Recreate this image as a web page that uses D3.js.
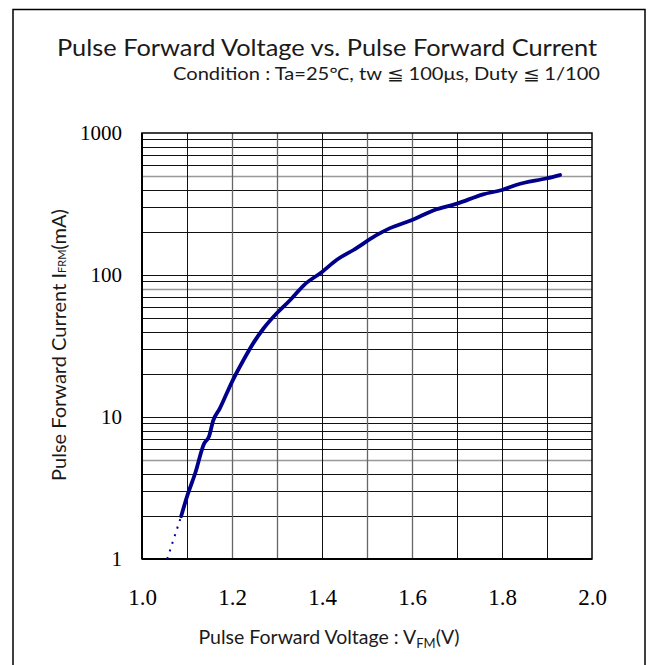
<!DOCTYPE html>
<html><head><meta charset="utf-8">
<script src="https://cdn.jsdelivr.net/npm/d3@7"></script>
<style>html,body{margin:0;padding:0;background:#fff;}svg{display:block;}</style>
</head><body>
<svg id="chart" width="653" height="665"></svg>
<script>
// ---- data ----
const voltage = [1.087, 1.100, 1.118, 1.138, 1.149, 1.158, 1.173, 1.200, 1.225, 1.247, 1.270, 1.300, 1.330, 1.360, 1.400, 1.433, 1.470, 1.520, 1.550, 1.600, 1.650, 1.700, 1.758, 1.800, 1.833, 1.900, 1.929];
const current = [2.0, 2.75, 4.0, 6.5, 7.3, 9.4, 11.5, 17.7, 25, 33, 42, 54, 67, 85, 105, 128, 150, 190, 213, 244, 287, 318, 370, 397, 432, 480, 506];
const dashedVoltage = [1.056, 1.087];
const dashedCurrent = [1.0, 2.0];
const xTicks = [1.0, 1.2, 1.4, 1.6, 1.8, 2.0];
const xGrid = [1.1, 1.2, 1.3, 1.4, 1.5, 1.6, 1.7, 1.8, 1.9];
const yTicks = [1, 10, 100, 1000];
const yGrid = [2,3,4,5,6,7,8,9,10,20,30,40,50,60,70,80,90,100,200,300,400,500,600,700,800,900];
const grayYGrid = [5, 80, 500];
const grayXGrid = [1.2, 1.3, 1.5, 1.6];

const svg = d3.select("#chart");
const L = 142, R = 592, T = 133, B = 559;
const x = d3.scaleLinear().domain([1, 2]).range([L, R]);
const y = d3.scaleLog().domain([1, 1000]).range([B, T]);
const sans = "Lato, 'Noto Sans', sans-serif";
const serif = "'Liberation Serif', 'Times New Roman', serif";
const txtColor = "#1a1a1a";

// outer frame
svg.append("rect").attr("x", 13).attr("y", 9.5).attr("width", 632).attr("height", 700)
  .attr("fill", "none").attr("stroke", "#000").attr("stroke-width", 1.5);

// titles
svg.append("text").attr("x", 327).attr("y", 56).attr("text-anchor", "middle")
  .attr("font-family", sans).attr("font-size", 24).attr("fill", txtColor)
  .attr("textLength", 540).attr("lengthAdjust", "spacingAndGlyphs")
  .text("Pulse Forward Voltage vs. Pulse Forward Current");
svg.append("text").attr("x", 173).attr("y", 80)
  .attr("font-family", sans).attr("font-size", 17).attr("fill", txtColor)
  .attr("textLength", 427).attr("lengthAdjust", "spacingAndGlyphs")
  .text("Condition : Ta=25℃, tw ≦ 100μs, Duty ≦ 1/100");

// grid
const g = svg.append("g");
g.selectAll("line.hg").data(yGrid).join("line")
  .attr("x1", L).attr("x2", R)
  .attr("y1", d => Math.round(y(d)) + 0.5).attr("y2", d => Math.round(y(d)) + 0.5)
  .attr("stroke", d => grayYGrid.includes(d) ? "#999" : "#111")
  .attr("stroke-width", d => grayYGrid.includes(d) ? 1.5 : 1);
g.selectAll("line.vg").data(xGrid).join("line")
  .attr("y1", T).attr("y2", B)
  .attr("x1", d => Math.round(x(d)) + 0.5).attr("x2", d => Math.round(x(d)) + 0.5)
  .attr("stroke", d => grayXGrid.some(v => Math.abs(v - d) < 1e-9) ? "#666" : "#111")
  .attr("stroke-width", d => grayXGrid.some(v => Math.abs(v - d) < 1e-9) ? 1.3 : 1);

// plot frame
svg.append("rect").attr("x", L).attr("y", T).attr("width", R - L).attr("height", B - T)
  .attr("fill", "none").attr("stroke", "#000").attr("stroke-width", 1.5);
svg.append("line").attr("x1", L).attr("x2", L).attr("y1", T).attr("y2", B).attr("stroke", "#000").attr("stroke-width", 2);
svg.append("line").attr("x1", L).attr("x2", R).attr("y1", B).attr("y2", B).attr("stroke", "#000").attr("stroke-width", 2);

// axes labels via d3 axes (domain/ticks hidden)
const yAxis = d3.axisLeft(y).tickValues(yTicks).tickFormat(d3.format("d")).tickSize(0).tickPadding(20);
const ya = svg.append("g").attr("transform", `translate(${L},0)`).call(yAxis);
ya.select(".domain").remove();
ya.selectAll("text").attr("font-family", serif).attr("font-size", 21).attr("fill", "#000");

const xAxis = d3.axisBottom(x).tickValues(xTicks).tickFormat(d3.format(".1f")).tickSize(0).tickPadding(30);
const xa = svg.append("g").attr("transform", `translate(0,${B})`).call(xAxis);
xa.select(".domain").remove();
xa.selectAll("text").attr("font-family", serif).attr("font-size", 23).attr("fill", "#000");

// axis titles
const xt = svg.append("text").attr("x", 329).attr("y", 644).attr("text-anchor", "middle")
  .attr("font-family", sans).attr("font-size", 19.5).attr("fill", txtColor);
xt.append("tspan").text("Pulse Forward Voltage : V");
xt.append("tspan").attr("font-size", 13).attr("dy", 4).text("FM");
xt.append("tspan").attr("dy", -4).text("(V)");

const yt = svg.append("text").attr("transform", "translate(66,345) rotate(-90)").attr("text-anchor", "middle")
  .attr("font-family", sans).attr("font-size", 20).attr("fill", txtColor);
yt.append("tspan").text("Pulse Forward Current I");
yt.append("tspan").attr("font-size", 11).text("FRM");
yt.append("tspan").text("(mA)");

// curve
const pts = voltage.map((v, i) => [v, current[i]]);
const line = d3.line().x(d => x(d[0])).y(d => y(d[1])).curve(d3.curveMonotoneX);
svg.append("path").datum(pts).attr("d", line).attr("fill", "none")
  .attr("stroke", "#00008a").attr("stroke-width", 3.8).attr("stroke-linecap", "round").attr("stroke-linejoin", "round");
const dpts = dashedVoltage.map((v, i) => [v, dashedCurrent[i]]);
svg.append("path").datum(dpts).attr("d", d3.line().x(d => x(d[0])).y(d => y(d[1])))
  .attr("fill", "none").attr("stroke", "#0000a0").attr("stroke-width", 2).attr("stroke-dasharray", "2,6");
</script>
</body></html>
